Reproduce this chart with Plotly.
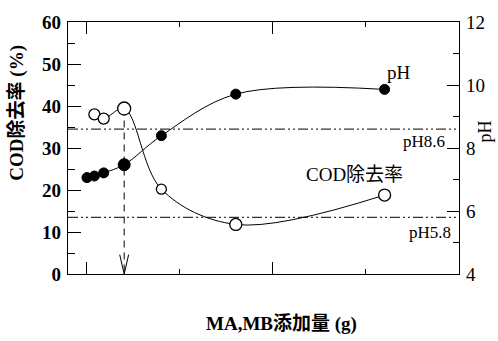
import plotly.graph_objects as go

# MA,MB dose (g) and measured responses
dose_ph = [0.0, 0.04, 0.09, 0.2, 0.4, 0.8, 1.6]
ph_values = [7.06, 7.11, 7.21, 7.47, 8.39, 9.71, 9.86]

dose_cod = [0.04, 0.09, 0.2, 0.4, 0.8, 1.6]
cod_removal = [38.0, 37.0, 39.4, 20.2, 11.8, 18.8]

# discharge limits for pH (upper / lower)
ph_limits = [8.6, 5.8]
ph_limit_labels = ["pH8.6", "pH5.8"]

# chosen dose marked with the arrow
best_dose = 0.2
best_cod = 39.4

x_tick_vals = [0, 0.2, 1, 2]
x_tick_text = ["0", "0.2", "1", "2"]
cod_ticks = [0, 10, 20, 30, 40, 50, 60]
ph_ticks = [4, 6, 8, 10, 12]

X_RANGE = [-0.102, 2.0]
COD_RANGE = [0, 60]
PH_RANGE = [4, 12]

SERIF = "Liberation Serif"
SERIF_CJK = "Liberation Serif, Noto Sans CJK JP"

fig = go.Figure()

# pH limit lines (dash-dot-dot) on the pH axis
for lim in ph_limits:
    fig.add_trace(go.Scatter(
        x=X_RANGE, y=[lim, lim], yaxis="y2", mode="lines",
        line=dict(color="black", width=1, dash="10px,3px,2px,3px,2px,3px"),
        hoverinfo="skip", showlegend=False))

# dashed guide from the optimum point down to the axis
fig.add_trace(go.Scatter(
    x=[best_dose, best_dose], y=[best_cod, COD_RANGE[0]], mode="lines",
    line=dict(color="black", width=1, dash="7px,5px"),
    hoverinfo="skip", showlegend=False))
# open arrow head at the axis
head_w = 0.024
head_h = 4.6
fig.add_trace(go.Scatter(
    x=[best_dose - head_w, best_dose, best_dose + head_w],
    y=[COD_RANGE[0] + head_h, COD_RANGE[0], COD_RANGE[0] + head_h],
    mode="lines", line=dict(color="black", width=1),
    hoverinfo="skip", showlegend=False))

# pH curve (filled circles, right axis)
fig.add_trace(go.Scatter(
    x=dose_ph, y=ph_values, yaxis="y2", mode="lines+markers",
    line=dict(color="black", width=1, shape="spline", smoothing=1.0),
    marker=dict(symbol="circle", size=[10, 10, 10, 12, 10, 10, 10],
                color="black", opacity=1, line=dict(color="black", width=1)),
    showlegend=False))

# COD removal curve (open circles, left axis)
fig.add_trace(go.Scatter(
    x=dose_cod, y=cod_removal, mode="lines+markers",
    line=dict(color="black", width=1, shape="spline", smoothing=1.0),
    marker=dict(symbol="circle", size=[11, 11, 13, 10, 12, 12],
                color="white", opacity=1, line=dict(color="black", width=1.3)),
    showlegend=False))

axis_common = dict(showgrid=False, zeroline=False, showline=True,
                   linecolor="black", linewidth=1.3, tickcolor="black")

fig.update_layout(
    width=498, height=341,
    margin=dict(l=68, r=39, t=15, b=67),
    paper_bgcolor="white", plot_bgcolor="white",
    font=dict(family=SERIF, color="black"),
    xaxis=dict(range=X_RANGE, tickvals=[0, 1], ticks="inside", ticklen=12,
               showticklabels=False, mirror="ticks",
               minor=dict(tickvals=[0.5, 1.5], ticks="inside", ticklen=5,
                          tickcolor="black"),
               **axis_common),
    xaxis2=dict(range=X_RANGE, overlaying="x", anchor="y", side="bottom",
                tickvals=x_tick_vals, ticktext=x_tick_text, ticks="",
                showline=False, showgrid=False, zeroline=False,
                ticklabelstandoff=5,
                tickfont=dict(family=SERIF, size=19, color="black",
                              weight="bold")),
    yaxis=dict(range=COD_RANGE, tickvals=cod_ticks, ticks="inside", ticklen=13,
               minor=dict(tickvals=[5, 15, 25, 35, 45, 55], ticks="inside",
                          ticklen=7, tickcolor="black"),
               tickfont=dict(family=SERIF, size=19, color="black",
                             weight="bold"),
               ticklabelstandoff=2,
               **axis_common),
    yaxis2=dict(range=PH_RANGE, overlaying="y", side="right", anchor="x",
                tickvals=ph_ticks, ticks="inside", ticklen=12,
                minor=dict(tickvals=[5, 7, 9, 11], ticks="inside", ticklen=6,
                           tickcolor="black"),
                tickfont=dict(family=SERIF, size=19, color="black"),
                ticklabelstandoff=2,
                **axis_common),
)

annotations = [
    # axis titles
    dict(text="COD除去率 (%)", xref="paper", yref="paper", x=-0.130, y=0.641,
         textangle=-90, showarrow=False, xanchor="center", yanchor="middle",
         font=dict(family=SERIF_CJK, size=19, color="black", weight="bold")),
    dict(text="pH", xref="paper", yref="paper", x=1.066, y=0.565,
         textangle=-90, showarrow=False, xanchor="center", yanchor="middle",
         font=dict(family=SERIF, size=18, color="black")),
    dict(text="MA,MB添加量 (g)", xref="paper", yref="paper", x=0.547, y=-0.197,
         showarrow=False, xanchor="center", yanchor="middle",
         font=dict(family=SERIF_CJK, size=19, color="black", weight="bold")),
    # series labels
    dict(text="pH", xref="x", yref="y2", x=1.68, y=10.4, showarrow=False,
         xanchor="center", yanchor="middle",
         font=dict(family=SERIF, size=19, color="black")),
    dict(text="COD除去率", xref="x", yref="y", x=1.44, y=23.8, showarrow=False,
         xanchor="center", yanchor="middle",
         font=dict(family=SERIF_CJK, size=19, color="black")),
    # limit labels
    dict(text=ph_limit_labels[0], xref="x", yref="y2", x=1.935, y=ph_limits[0],
         yshift=-12, showarrow=False, xanchor="right", yanchor="middle",
         font=dict(family=SERIF, size=17, color="black")),
    dict(text=ph_limit_labels[1], xref="x", yref="y2", x=1.968, y=ph_limits[1],
         yshift=-15, showarrow=False, xanchor="right", yanchor="middle",
         font=dict(family=SERIF, size=17, color="black")),
]
fig.update_layout(annotations=annotations)

fig.write_html("out.html")
